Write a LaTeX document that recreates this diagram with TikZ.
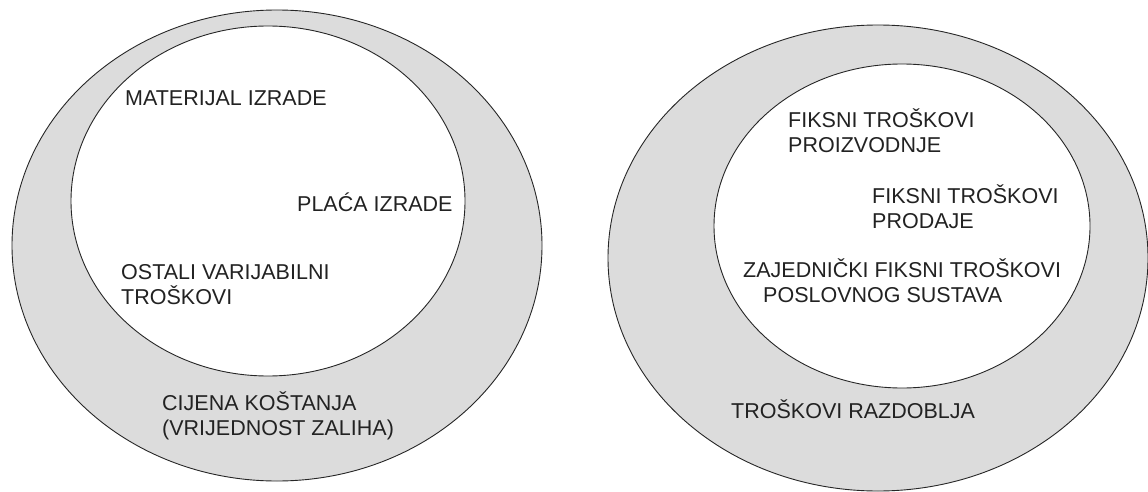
\documentclass[tikz,border=0pt]{standalone}
\usepackage{fontspec}
\setmainfont{Liberation Sans}
\usepackage{tikz}
\usetikzlibrary{positioning}

\definecolor{ringgray}{RGB}{220,220,220}
\definecolor{labelink}{RGB}{34,34,34}

\begin{document}
\begin{tikzpicture}[x=1pt, y=-1pt,
      outer/.style={draw=black!85, line width=0.9pt, fill=ringgray},
      inner/.style={draw=black!85, line width=0.9pt, fill=white},
      label/.style={anchor=base west, inner sep=0pt, align=left, text=labelink,
        font=\fontsize{21.5}{25}\selectfont}]

      \useasboundingbox (0,0) rectangle (1148,492);

      % Ellipses
      \draw[outer] (277,245.5) ellipse [x radius=265, y radius=235.5];
      \draw[inner] (268,201) ellipse [x radius=197, y radius=175];
      \draw[outer] (878,258) ellipse [x radius=270, y radius=233];
      \draw[inner] (902,226) ellipse [x radius=188, y radius=162];

      % Labels, left (base = baseline of the last line)
      \node[label] (material) at (125,106) {MATERIJAL IZRADE};
      \node[label] (placa) at (297,211) {PLAĆA IZRADE};
      \node[label] (ostali) at (121,304) {OSTALI VARIJABILNI\\TROŠKOVI};
      \node[label] (cijena) at (162,435) {CIJENA KOŠTANJA\\(VRIJEDNOST ZALIHA)};

      % Labels, right
      \node[label] (proizv) at (788,153) {FIKSNI TROŠKOVI\\PROIZVODNJE};
      \node[label] (prodaja) at (872,228) {FIKSNI TROŠKOVI\\PRODAJE};
      \node[label] (zajed) at (743,302) {ZAJEDNIČKI FIKSNI TROŠKOVI\\\hspace*{20pt}POSLOVNOG SUSTAVA};
      \node[label] (razdoblje) at (731,418) {TROŠKOVI RAZDOBLJA};
    \end{tikzpicture}
\end{document}
